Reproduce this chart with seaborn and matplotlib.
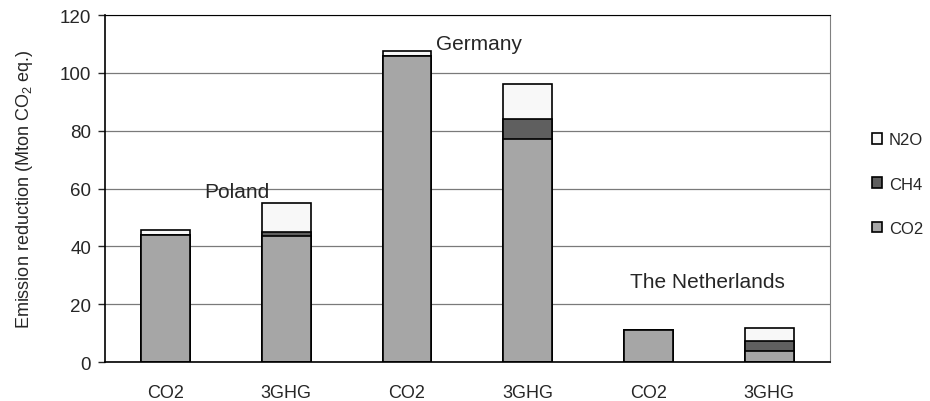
import numpy as np
import pandas as pd
import matplotlib
matplotlib.use("Agg")
from matplotlib import pyplot as plt
import seaborn as sns

sns.set_style("white")
plt.rcParams['font.family'] = ['Liberation Sans', 'DejaVu Sans']
plt.rcParams['mathtext.default'] = 'regular'

# data
categories = ['CO2', '3GHG', 'CO2', '3GHG', 'CO2', '3GHG']
co2 = [44.0, 43.5, 106.0, 77.0, 11.1, 3.9]
ch4 = [0.0, 1.6, 0.0, 7.2, 0.0, 3.5]
n2o = [1.7, 9.8, 1.5, 12.0, 0.0, 4.4]
countries = ['Poland', 'Germany', 'The Netherlands']

df = pd.DataFrame({'slot': np.arange(len(categories)), 'CO2': co2, 'CH4': ch4, 'N2O': n2o})
df['lvl_co2'] = df['CO2']
df['lvl_ch4'] = df['CO2'] + df['CH4']
df['lvl_n2o'] = df['lvl_ch4'] + df['N2O']

colors = {'N2O': '#f8f8f8', 'CH4': '#5f5f5f', 'CO2': '#a6a6a6'}

fig = plt.figure(figsize=(9.3, 4.02), dpi=100)
ax = fig.add_axes([0.113, 0.097, 0.779, 0.863])

ax.yaxis.grid(True, color='#7a7a7a', linewidth=0.9)
ax.set_axisbelow(True)

# stacked bars: draw cumulative totals, tallest first
for col, name in [('lvl_n2o', 'N2O'), ('lvl_ch4', 'CH4'), ('lvl_co2', 'CO2')]:
    sns.barplot(data=df, x='slot', y=col, color=colors[name], saturation=1,
                width=0.405, edgecolor='black', linewidth=1.2, ax=ax, label=name,
                order=list(range(len(categories))))

ax.set_ylim(0, 120)
ax.set_yticks(np.arange(0, 121, 20))
ax.set_xlim(-0.5, len(categories) - 0.5)
ax.set_xticks(range(len(categories)))
ax.set_xticklabels(categories, fontsize=13)
ax.set_xticks(np.arange(-0.5, len(categories), 1), minor=True)
ax.tick_params(axis='x', which='major', length=0, pad=16)
ax.tick_params(axis='x', which='minor', length=5, direction='out', width=1)
ax.tick_params(axis='y', length=5, direction='out', width=1, labelsize=13.5, left=True, pad=5)
ax.set_xlabel('')
ax.set_ylabel('Emission reduction (Mton CO$_2$ eq.)', fontsize=13, labelpad=18)

for side in ['left', 'bottom']:
    ax.spines[side].set_color('black')
    ax.spines[side].set_linewidth(1.2)
ax.spines['top'].set_color('black')
ax.spines['right'].set_color('#808080')

ax.text(0.32, 57.0, countries[0], fontsize=15, va='baseline')
ax.text(2.24, 108.3, countries[1], fontsize=15, va='baseline')
ax.text(3.85, 26.0, countries[2], fontsize=15, va='baseline')

handles, labels = ax.get_legend_handles_labels()
leg = ax.legend(handles, labels, loc='center left', bbox_to_anchor=(1.058, 0.513),
                frameon=False, fontsize=12, handlelength=0.6, handleheight=0.6,
                labelspacing=1.75, handletextpad=0.45, borderpad=0, borderaxespad=0)

plt.savefig('out.png', dpi=100)
